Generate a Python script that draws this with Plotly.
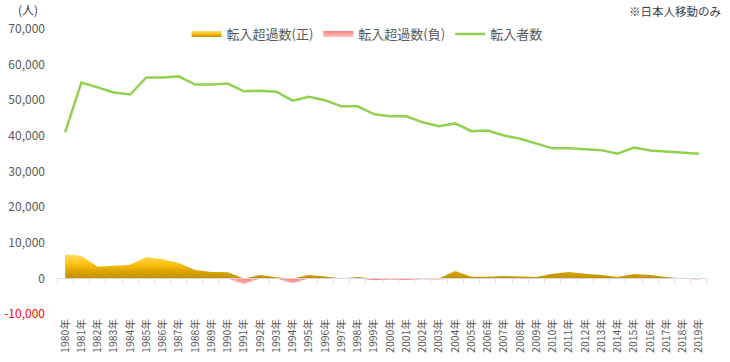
import plotly.graph_objects as go

years = [f"{y}年" for y in range(1980, 2020)]

# 転入者数
inflow = [41000, 55000, 53600, 52200, 51600, 56400, 56400, 56700, 54400, 54400,
          54700, 52500, 52700, 52400, 49900, 51000, 50000, 48300, 48300, 46100,
          45500, 45500, 43800, 42700, 43500, 41300, 41500, 40100, 39200, 37900,
          36500, 36500, 36300, 36000, 35000, 36700, 35900, 35600, 35400, 35000]

# 転入超過数 (net inflow)
net = [6800, 6330, 3250, 3530, 3800, 5970, 5400, 4290, 2320, 1760,
       1700, -1600, 920, 300, -1400, 930, 560, 0, 360, -560,
       -300, -450, -250, -350, 2050, 450, 450, 650, 560, 360,
       1300, 1760, 1300, 930, 360, 1200, 930, 360, -100, -350]

net_pos = [v if v > 0 else 0 for v in net]
net_neg = [v if v < 0 else 0 for v in net]

y_ticks = [70000, 60000, 50000, 40000, 30000, 20000, 10000, 0, -10000]
y_ticktext = ["70,000", "60,000", "50,000", "40,000", "30,000", "20,000", "10,000", "0",
              '<span style="color:#FF0000">-10,000</span>']

FONT = "Noto Sans CJK JP, Noto Sans, sans-serif"
GRAY = "#595959"

fig = go.Figure()

fig.add_trace(go.Scatter(
    x=years, y=net_pos, name="転入超過数(正)", mode="none", fill="tozeroy",
    fillgradient=dict(type="vertical", start=0, stop=7000,
                      colorscale=[[0, "#BF9000"], [0.3, "#DDA500"], [0.6, "#FFC414"], [1, "#FFDD77"]]),
    hoverinfo="skip"))

fig.add_trace(go.Scatter(
    x=years, y=net_neg, name="転入超過数(負)", mode="none", fill="tozeroy",
    fillgradient=dict(type="vertical", start=-2000, stop=0,
                      colorscale=[[0, "#FFC4C4"], [1, "#FF8080"]]),
    hoverinfo="skip"))

fig.add_trace(go.Scatter(
    x=years, y=inflow, name="転入者数", mode="lines",
    line=dict(color="#92D050", width=2.5), hoverinfo="skip"))

# invisible trace that carries the zero-line category axis
fig.add_trace(go.Scatter(
    x=years, y=inflow, xaxis="x2", mode="lines", line=dict(width=0),
    opacity=0, showlegend=False, hoverinfo="skip"))

fig.update_layout(
    width=730, height=362, autosize=False,
    margin=dict(l=57, r=23, t=29, b=48),
    paper_bgcolor="white", plot_bgcolor="white",
    font=dict(family=FONT, color=GRAY, size=12),
    showlegend=True,
    legend=dict(orientation="h", x=0.477, xanchor="center", y=0.982, yanchor="middle",
                font=dict(size=13, color=GRAY), bgcolor="rgba(0,0,0,0)",
                itemwidth=30, tracegroupgap=0),
    xaxis=dict(type="category", range=[-0.5, 39.5], showgrid=False, showline=False,
               zeroline=False, ticks="", tickangle=-90, automargin=False,
               ticklabelstandoff=2,
               tickfont=dict(size=10.5, color=GRAY, family=FONT)),
    xaxis2=dict(type="category", range=[-0.5, 39.5], overlaying="x", anchor="free",
                position=0.125, showgrid=False, showline=True, linecolor="#D9D9D9",
                linewidth=1, ticks="outside", ticklen=4, tickcolor="#D9D9D9",
                tickson="boundaries", showticklabels=False, zeroline=False,
                automargin=False),
    yaxis=dict(range=[-10000, 70000], tickvals=y_ticks, ticktext=y_ticktext,
               showgrid=False, zeroline=False, showline=False, ticks="",
               automargin=False, ticklabelstandoff=11,
               tickfont=dict(size=12, color=GRAY, family=FONT)),
    annotations=[
        dict(text="(人)", xref="paper", yref="paper", x=-0.044, y=1.070,
             xanchor="center", yanchor="middle", showarrow=False,
             font=dict(size=12, color="#404040", family=FONT)),
        dict(text="※日本人移動のみ", xref="paper", yref="paper", x=1.025, y=1.063,
             xanchor="right", yanchor="middle", showarrow=False,
             font=dict(size=11.5, color="#404040", family=FONT)),
    ],
)

fig.write_html("out.html",
               config={"displayModeBar": False},
               post_script="document.body.style.margin='0';document.body.style.padding='0';")
